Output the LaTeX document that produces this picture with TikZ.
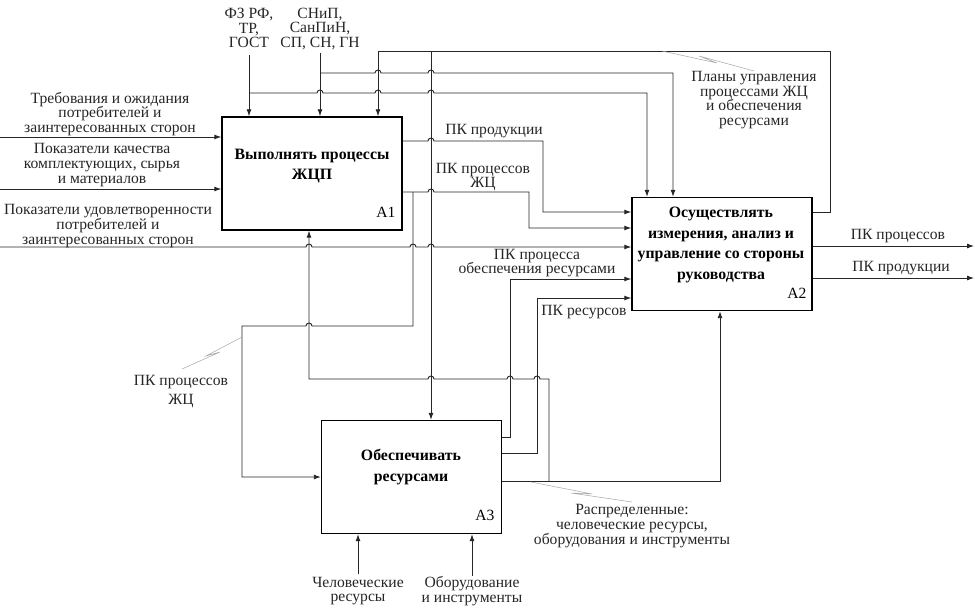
\documentclass[tikz,border=0pt]{standalone}
\usepackage{fontspec}
\setmainfont{Liberation Serif}
\usetikzlibrary{arrows.meta}
\newcommand\hopr[2]{-- (#1-3,#2) arc[start angle=180,end angle=360,radius=3]}
\newcommand\hopl[2]{-- (#1+3,#2) arc[start angle=0,end angle=-180,radius=3]}
\begin{document}
\begin{tikzpicture}[x=1pt,y=-1pt,
  ln/.style={line width=0.9pt,draw=black!85},
  arr/.style={ln,-{Latex[length=7pt,width=5pt]}},
  box/.style={draw=black,line width=1.4pt,minimum width=180pt,minimum height=113pt,inner sep=0pt},
  lbl/.style={font=\fontsize{15.6}{14.6}\selectfont,align=center,inner sep=0pt,text=black!85},
  ttl/.style={font=\fontsize{15.8}{20.5}\selectfont\bfseries,align=center,inner sep=0pt},
  idx/.style={font=\fontsize{15.6}{15}\selectfont,inner sep=0pt},
  lead/.style={draw=black!35,line width=0.5pt}]
\useasboundingbox (0,0) rectangle (975,609);
\fill[white] (0,0) rectangle (975,609);

% boxes
\node[box] (A1) at (312,173.5) {};
\node[box] (A2) at (722,254) {};
\node[box] (A3) at (411.5,477) {};
\node[ttl] (t1) at (312,166) {Выполнять процессы\\ЖЦП};
\node[ttl] (t2) at (721,245) {Осуществлять\\измерения, анализ и\\управление со стороны\\руководства};
\node[ttl] (t3) at (411,467) {Обеспечивать\\ресурсами};
\node[idx] (i1) at (386,212) {A1};
\node[idx] (i2) at (797,293) {A2};
\node[idx] (i3) at (485,515) {A3};

% inputs to A1
\draw[arr] (0,137) -- (A1.west |- 0,137);
\draw[arr] (0,189) -- (A1.west |- 0,189);
\draw[arr] (0,247) \hopr{309}{247} \hopr{413}{247} \hopr{431}{247} -- (A2.west |- 0,247);

% controls
\draw[arr] (249,55) -- (A1.north -| 249,0);
\draw[arr] (249,93) \hopr{320}{93} \hopr{378}{93} \hopr{431}{93} -- (647,93) -- (A2.north -| 647,0);
\draw[arr] (320,53) -- (A1.north -| 320,0);
\draw[arr] (320,73) \hopr{378}{73} \hopr{431}{73} -- (673,73) -- (A2.north -| 673,0);

% feedback plans
\draw[arr] (A2.east |- 0,212) -- (830,212) -- (830,51) -- (378,51) -- (A1.north -| 378,0);
\draw[arr] (431,51) -- (A3.north -| 431,0);

% A1 outputs
\draw[arr] (A1.east |- 0,141) \hopr{431}{141} -- (543,141) -- (543,212) -- (A2.west |- 0,212);
\draw[arr] (A1.east |- 0,192) \hopr{431}{192} -- (529,192) -- (529,228) -- (A2.west |- 0,228);
\draw[arr] (413,192) -- (413,326) \hopl{309}{326} -- (242,326) -- (242,477) -- (A3.west |- 0,477);

% A3 outputs
\draw[arr] (A3.east |- 0,437) -- (510,437) -- (510,279) -- (A2.west |- 0,279);
\draw[arr] (A3.east |- 0,453) -- (537,453) -- (537,298) -- (A2.west |- 0,298);
\draw[arr] (A3.east |- 0,481) -- (720,481) -- (A2.south -| 720,0);
\draw[arr] (549,481) -- (549,379) \hopl{537}{379} \hopl{510}{379} \hopl{431}{379} -- (309,379) -- (A1.south -| 309,0);

% A2 outputs
\draw[arr] (A2.east |- 0,246) -- (974,246);
\draw[arr] (A2.east |- 0,278) -- (974,278);

% mechanisms
\draw[arr] (358,574) -- (A3.south -| 358,0);
\draw[arr] (472,576) -- (A3.south -| 472,0);

% leaders
\draw[lead] (662,51) -- (717,63) -- (699,56) -- (754,71);
\draw[lead] (242,337) -- (206,356) -- (220,352) -- (182,369);
\draw[lead] (531,482) -- (592,494) -- (571,493) -- (632,502);

% labels
\node[lbl] (l1) at (249,28) {ФЗ РФ,\\ТР,\\ГОСТ};
\node[lbl] (l2) at (320,29) {СНиП,\\СанПиН,\\СП, СН, ГН};
\node[lbl] (l3) at (110,114) {Требования и ожидания\\потребителей и\\заинтересованных сторон};
\node[lbl] (l4) at (102,165) {Показатели качества\\комплектующих, сырья\\и материалов};
\node[lbl] (l5) at (108,226) {Показатели удовлетворенности\\потребителей и\\заинтересованных сторон};
\node[lbl] (l6) at (494,131) {ПК продукции};
\node[lbl] (l7) at (483,177) {ПК процессов\\ЖЦ};
\node[lbl] (l8) at (537,263) {ПК процесса\\обеспечения ресурсами};
\node[lbl] (l9) at (584,312) {ПК ресурсов};
\node[lbl] (l10) at (754,100) {Планы управления\\процессами ЖЦ\\и обеспечения\\ресурсами};
\node[lbl] (l11) at (898,236) {ПК процессов};
\node[lbl] (l12) at (901,268) {ПК продукции};
\node[lbl,font=\fontsize{15.6}{19}\selectfont] (l13) at (181,392) {ПК процессов\\ЖЦ};
\node[lbl] (l14) at (632,526) {Распределенные:\\человеческие ресурсы,\\оборудования и инструменты};
\node[lbl] (l15) at (358,591) {Человеческие\\ресурсы};
\node[lbl] (l16) at (472,591) {Оборудование\\и инструменты};
\end{tikzpicture}
\end{document}
